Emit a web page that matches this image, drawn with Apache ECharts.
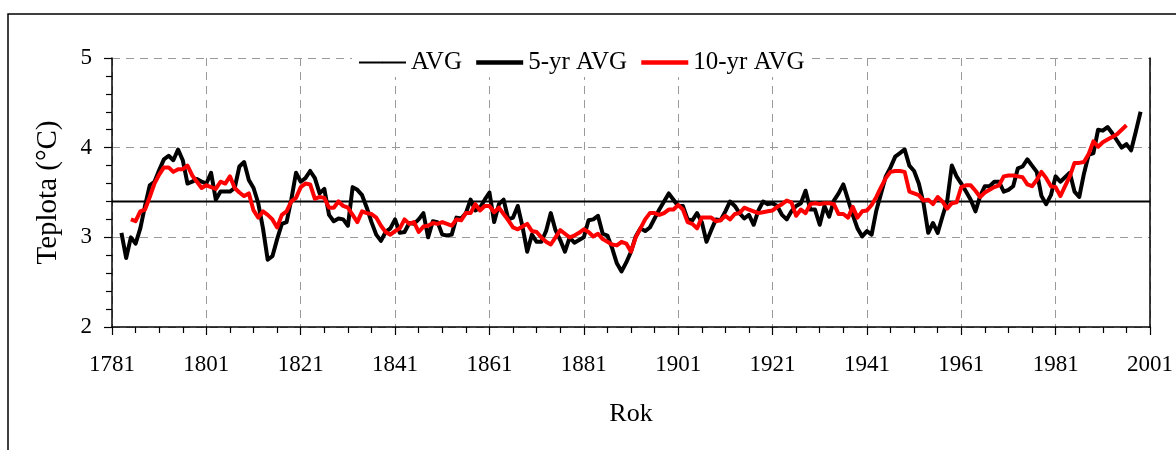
<!DOCTYPE html>
<html>
<head>
<meta charset="utf-8">
<script src="https://cdn.jsdelivr.net/npm/echarts@6/dist/echarts.min.js"></script>
<style>
  html, body { margin: 0; padding: 0; background: #fff; }
  #chart { width: 1176px; height: 450px; }
</style>
</head>
<body>
<div id="chart"></div>
<script>
// Annual temperature averages (°C)
const firstYear = 1781;           // left end of the year axis
const lastYear = 2001;            // right end of the year axis
const yearTicks = [1781, 1801, 1821, 1841, 1861, 1881, 1901, 1921, 1941, 1961, 1981, 2001];
const longTermAvg = 3.4;          // "AVG" reference level

const fiveYrStart = 1783;
const fiveYrAvg = [
  3.05, 2.77, 3.0, 2.93, 3.1, 3.35, 3.58, 3.62,
  3.75, 3.87, 3.91, 3.86, 3.98, 3.86, 3.6, 3.62, 3.65, 3.62,
  3.6, 3.72, 3.42, 3.51, 3.51, 3.51, 3.55, 3.79, 3.84, 3.64,
  3.55, 3.38, 3.1, 2.75, 2.79, 2.98, 3.15, 3.17, 3.42, 3.72,
  3.62, 3.66, 3.74, 3.66, 3.49, 3.54, 3.25, 3.18, 3.21, 3.2,
  3.13, 3.56, 3.53, 3.47, 3.33, 3.17, 3.03, 2.96, 3.06, 3.1,
  3.2, 3.05, 3.06, 3.16, 3.15, 3.2, 3.27, 3.0, 3.18, 3.17,
  3.03, 3.02, 3.03, 3.22, 3.21, 3.27, 3.42, 3.3, 3.33, 3.42,
  3.5, 3.17, 3.37, 3.42, 3.2, 3.22, 3.35, 3.12, 2.84, 3.03,
  2.95, 2.95, 3.07, 3.27, 3.08, 2.97, 2.84, 3.0, 2.94, 2.97,
  3.0, 3.19, 3.2, 3.24, 3.04, 3.02, 2.88, 2.71, 2.62, 2.72,
  2.84, 3.01, 3.1, 3.07, 3.11, 3.21, 3.31, 3.4, 3.49, 3.42,
  3.35, 3.35, 3.2, 3.19, 3.27, 3.17, 2.95, 3.08, 3.2, 3.19,
  3.29, 3.4, 3.35, 3.27, 3.21, 3.25, 3.14, 3.3, 3.4, 3.37,
  3.38, 3.35, 3.25, 3.2, 3.29, 3.35, 3.38, 3.52, 3.31, 3.31,
  3.14, 3.35, 3.23, 3.41, 3.49, 3.59, 3.42, 3.25, 3.1, 3.01,
  3.07, 3.03, 3.3, 3.49, 3.68, 3.78, 3.9, 3.94, 3.98, 3.8,
  3.74, 3.6, 3.38, 3.05, 3.16, 3.05, 3.23, 3.4, 3.8, 3.68,
  3.6, 3.51, 3.42, 3.29, 3.46, 3.57, 3.57, 3.62, 3.62, 3.51,
  3.53, 3.57, 3.77, 3.79, 3.87, 3.8, 3.73, 3.46, 3.37, 3.47,
  3.68, 3.62, 3.67, 3.72, 3.51, 3.45, 3.71, 3.92, 3.94, 4.2,
  4.19, 4.23, 4.16, 4.08, 4.0, 4.04, 3.97, 4.18, 4.4
];

const tenYrStart = 1785;
const tenYrAvg = [
  3.2, 3.18, 3.29, 3.31, 3.45, 3.6,
  3.7, 3.78, 3.78, 3.73, 3.76, 3.76, 3.8, 3.69, 3.62, 3.55,
  3.58, 3.56, 3.54, 3.62, 3.6, 3.68, 3.55, 3.5, 3.46, 3.49,
  3.3, 3.22, 3.29, 3.25, 3.2, 3.11, 3.25, 3.29, 3.4, 3.44,
  3.56, 3.6, 3.59, 3.43, 3.45, 3.44, 3.33, 3.33, 3.4, 3.35,
  3.33, 3.25, 3.17, 3.29, 3.27, 3.26, 3.22, 3.13, 3.06, 3.03,
  3.07, 3.1, 3.2, 3.15, 3.17, 3.06, 3.12, 3.13, 3.16, 3.15,
  3.17, 3.15, 3.13, 3.2, 3.19, 3.27, 3.27, 3.37, 3.3, 3.35,
  3.35, 3.28, 3.33, 3.26, 3.19, 3.11, 3.09, 3.12, 3.15, 3.07,
  3.06, 3.0, 2.95, 2.92, 3.0, 3.08, 3.04, 3.0, 3.02, 3.05,
  3.09, 3.06, 3.01, 3.04, 2.98, 2.95, 2.92, 2.91, 2.95, 2.93,
  2.84, 3.0, 3.1, 3.2, 3.27, 3.27, 3.25, 3.27, 3.31, 3.31,
  3.36, 3.31, 3.17, 3.15, 3.1, 3.22, 3.22, 3.22, 3.18, 3.19,
  3.24, 3.2, 3.26, 3.27, 3.33, 3.31, 3.29, 3.27, 3.28, 3.29,
  3.3, 3.34, 3.37, 3.41, 3.39, 3.24, 3.31, 3.27, 3.37, 3.38,
  3.37, 3.38, 3.38, 3.37, 3.26, 3.26, 3.22, 3.34, 3.22, 3.29,
  3.3, 3.36, 3.45, 3.56, 3.66, 3.73, 3.74, 3.74, 3.73, 3.51,
  3.49, 3.47, 3.41, 3.42, 3.37, 3.45, 3.4, 3.32, 3.38, 3.39,
  3.56, 3.58, 3.58, 3.52, 3.45, 3.5, 3.53, 3.56, 3.58, 3.68,
  3.69, 3.69, 3.68, 3.67, 3.59, 3.57, 3.64, 3.73, 3.66, 3.57,
  3.56, 3.46, 3.57, 3.68, 3.83, 3.83, 3.84, 3.93, 4.07, 4.01,
  4.06, 4.09, 4.12, 4.15, 4.2, 4.25
];

// The year axis runs on an offset from the first year so its 20-year ticks land on 1781, 1801, ...
const toPoints = (start, values) => values.map((v, i) => [start + i - firstYear, v]);
const span = lastYear - firstYear;
const tickStep = yearTicks[1] - yearTicks[0];

const serif = '"Liberation Serif", "DejaVu Serif", serif';
const gridDash = { color: '#9a9a9a', width: 1, type: [8, 6] };

const chart = echarts.init(document.getElementById('chart'), null, { renderer: 'canvas' });
chart.setOption({
  animation: false,
  backgroundColor: '#ffffff',
  textStyle: { fontFamily: serif, color: '#000' },
  grid: { left: 112, right: 19, top: 58, bottom: 123, containLabel: false },
  graphic: [{
    type: 'rect',
    shape: { x: 8, y: 14, width: 1200, height: 500 },
    style: { fill: 'none', stroke: '#000', lineWidth: 1.5 },
    silent: true
  }],
  legend: {
    show: true,
    orient: 'horizontal',
    left: 352,
    top: 48,
    padding: [2, 6],
    backgroundColor: '#ffffff',
    itemWidth: 47,
    itemHeight: 2,
    itemGap: 12,
    textStyle: { fontFamily: serif, fontSize: 25, color: '#000' },
    data: [
      { name: 'AVG', lineStyle: { width: 2 } },
      { name: '5-yr AVG', lineStyle: { width: 4.5 } },
      { name: '10-yr AVG', lineStyle: { width: 4.5 } }
    ]
  },
  xAxis: {
    type: 'value',
    min: 0,
    max: span,
    interval: tickStep,
    name: 'Rok',
    nameLocation: 'middle',
    nameGap: 74,
    nameTextStyle: { fontFamily: serif, fontSize: 26, color: '#000' },
    axisLine: { show: true, onZero: false, lineStyle: { color: '#000', width: 1.5 } },
    axisTick: { show: true, length: 8, lineStyle: { color: '#000', width: 1.2 } },
    minorTick: { show: true, splitNumber: 4, length: 6, lineStyle: { color: '#000', width: 1.2 } },
    axisLabel: {
      fontFamily: serif, fontSize: 23, color: '#000', margin: 26,
      formatter: v => String(v + firstYear)
    },
    splitLine: { show: true, lineStyle: gridDash }
  },
  yAxis: [{
    type: 'value',
    min: 2,
    max: 5,
    interval: 1,
    name: 'Teplota (°C)',
    nameLocation: 'middle',
    nameGap: 49,
    nameTextStyle: { fontFamily: serif, fontSize: 29, color: '#000' },
    axisLine: { show: true, onZero: false, lineStyle: { color: '#000', width: 1.5 } },
    axisTick: { show: true, length: 8, lineStyle: { color: '#000', width: 1.2 } },
    minorTick: { show: true, splitNumber: 5, length: 6, lineStyle: { color: '#000', width: 1.2 } },
    axisLabel: { fontFamily: serif, fontSize: 23, color: '#000', margin: 20 },
    splitLine: { show: true, lineStyle: gridDash }
  }, {
    type: 'value',
    min: 2,
    max: 5,
    position: 'right',
    axisLine: { show: true, onZero: false, lineStyle: { color: '#000', width: 1.5 } },
    axisTick: { show: false },
    axisLabel: { show: false },
    splitLine: { show: false }
  }],
  series: [{
    name: 'AVG',
    type: 'line',
    data: [[0, longTermAvg], [span, longTermAvg]],
    symbol: 'none',
    lineStyle: { color: '#000', width: 2 },
    itemStyle: { color: '#000' },
    z: 2
  }, {
    name: '5-yr AVG',
    type: 'line',
    data: toPoints(fiveYrStart, fiveYrAvg),
    symbol: 'none',
    lineStyle: { color: '#000', width: 4, join: 'round' },
    itemStyle: { color: '#000' },
    z: 3
  }, {
    name: '10-yr AVG',
    type: 'line',
    data: toPoints(tenYrStart, tenYrAvg),
    symbol: 'none',
    lineStyle: { color: '#ff0000', width: 4, join: 'round' },
    itemStyle: { color: '#ff0000' },
    z: 4
  }]
});
</script>
</body>
</html>
